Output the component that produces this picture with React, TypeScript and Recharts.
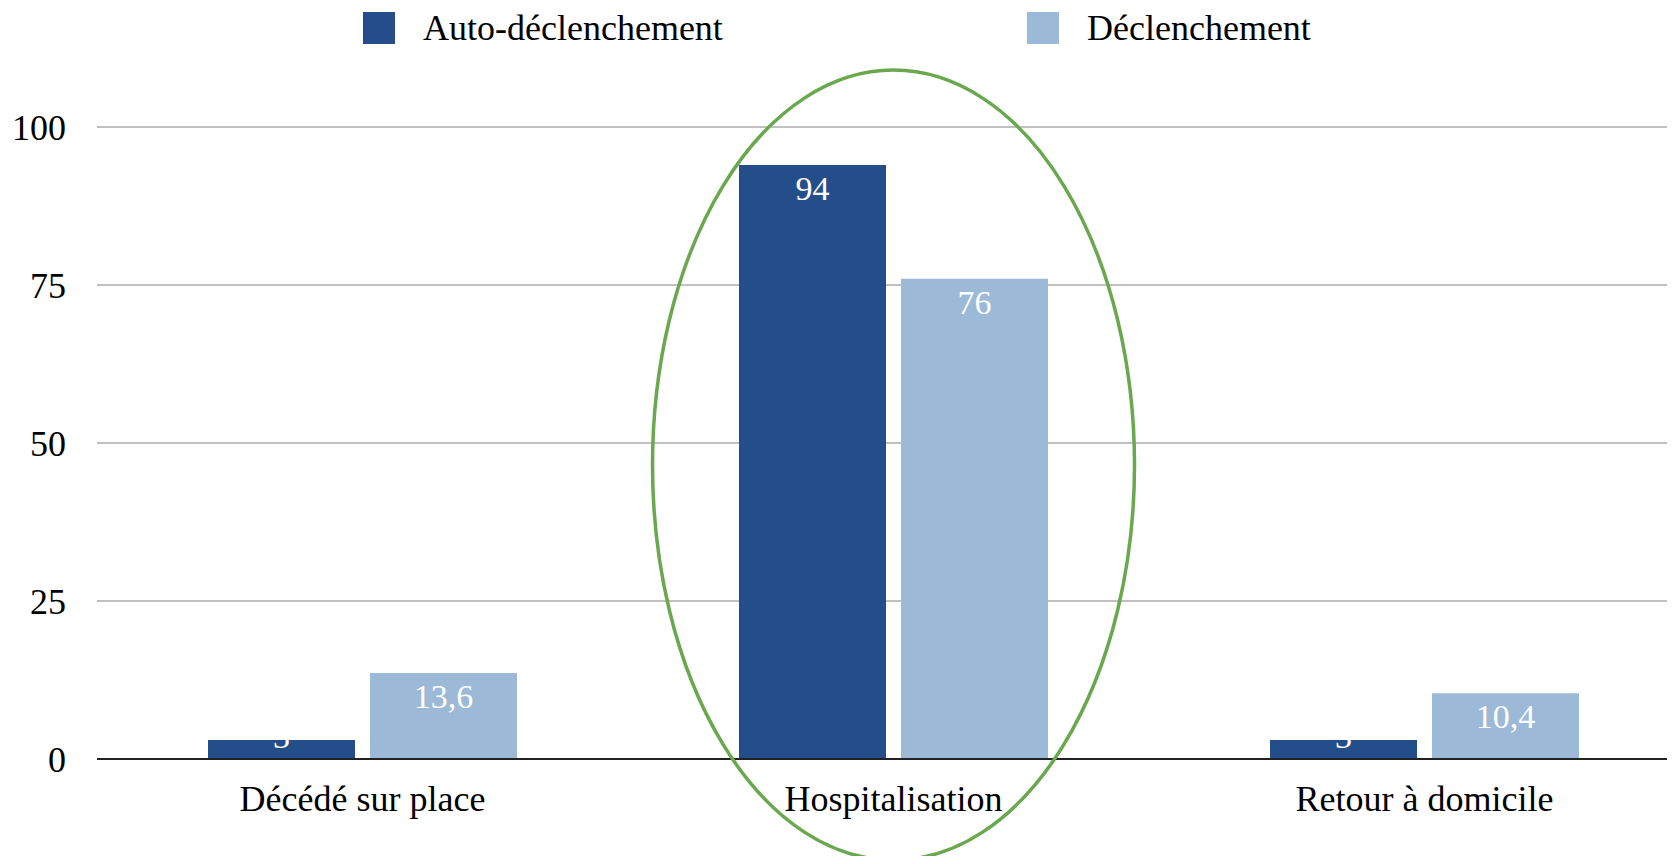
import { BarChart, Bar, XAxis, YAxis, CartesianGrid, Legend, LabelList, ReferenceDot } from 'recharts';

const categories = ['Décédé sur place', 'Hospitalisation', 'Retour à domicile'];
const autoValues = [3, 94, 3];
const declValues = [13.6, 76, 10.4];
const yTicks = [0, 25, 50, 75, 100];

const seriesNames = ['Auto-déclenchement', 'Déclenchement'];
const colors = ['#234e8a', '#9db9d8'];

// the green circle around "Hospitalisation"
const highlight = { category: 'Hospitalisation', centerValue: 46.5 };

const data = categories.map((name, i) => ({
  name,
  auto: autoValues[i],
  decl: declValues[i],
}));

const font = '"Liberation Serif", "Times New Roman", serif';

const fmt = (v: number) => String(v).replace('.', ',');

const BarLabel = (props: any) => {
  const { x, y, width, height, value } = props;
  // small bars: text sits on the bar top, most of it white on white
  const baseline = height > 30 ? y + 35 : y + 8;
  return (
    <text x={x + width / 2} y={baseline} textAnchor="middle" fill="#fff" fontSize={34} fontFamily={font}>
      {fmt(value)}
    </text>
  );
};

const LegendContent = () => (
  <div style={{ position: 'relative', height: 60, fontFamily: font, fontSize: 36, color: '#000' }}>
    {seriesNames.map((s, i) => (
      <div key={s} style={{ position: 'absolute', left: i === 0 ? 363 : 1027, top: 8, display: 'flex', alignItems: 'center', height: 40 }}>
        <span style={{ width: 32, height: 32, background: colors[i], display: 'inline-block', marginRight: 28 }} />
        <span>{s}</span>
      </div>
    ))}
  </div>
);

const Ellipse = (props: any) => (
  <ellipse cx={props.cx} cy={props.cy} rx={241} ry={395} fill="none" stroke="#6aa84f" strokeWidth={3.5} />
);

export default function App() {
  return (
    <div style={{ margin: -8, width: 1675, height: 864, overflow: 'hidden', background: '#fff' }}>
      <BarChart
        width={1690}
        height={864}
        data={data}
        margin={{ top: 127, right: 0, bottom: 45, left: 0 }}
        barSize={147}
        barGap={15}
      >
        <CartesianGrid vertical={false} stroke="#c0c0c0" strokeWidth={2} />
        <XAxis
          dataKey="name"
          height={60}
          tickLine={false}
          tickSize={0}
          tickMargin={26}
          axisLine={{ stroke: '#222', strokeWidth: 2 }}
          tick={{ fill: '#000', fontSize: 36, fontFamily: font }}
          interval={0}
        />
        <YAxis
          width={97}
          domain={[0, 100]}
          ticks={yTicks}
          axisLine={false}
          tickLine={false}
          tickSize={0}
          tickMargin={31}
          tick={{ fill: '#000', fontSize: 36, fontFamily: font }}
        />
        <Legend layout="horizontal" verticalAlign="middle" wrapperStyle={{ top: 0, left: 0, width: 1675 }} content={LegendContent} />
        <Bar dataKey="auto" name={seriesNames[0]} fill={colors[0]} isAnimationActive={false}>
          <LabelList dataKey="auto" content={BarLabel} />
        </Bar>
        <Bar dataKey="decl" name={seriesNames[1]} fill={colors[1]} isAnimationActive={false}>
          <LabelList dataKey="decl" content={BarLabel} />
        </Bar>
        <ReferenceDot x={highlight.category} y={highlight.centerValue} r={1} ifOverflow="visible" shape={Ellipse} />
      </BarChart>
    </div>
  );
}
